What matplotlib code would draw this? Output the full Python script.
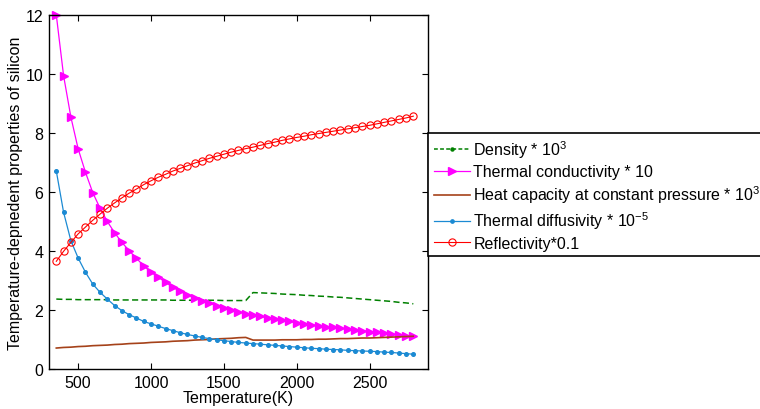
# silicon properties vs temperature, redrawn from a matlab figure

# IMPORTS
import matplotlib
matplotlib.use('Agg')
import matplotlib.pyplot as plt
from matplotlib.lines import Line2D


# DATA (every 50 K)
temperature = [350, 400, 450, 500, 550, 600, 650, 700, 750, 800,
               850, 900, 950, 1000, 1050, 1100, 1150, 1200, 1250, 1300,
               1350, 1400, 1450, 1500, 1550, 1600, 1650, 1700, 1750, 1800,
               1850, 1900, 1950, 2000, 2050, 2100, 2150, 2200, 2250, 2300,
               2350, 2400, 2450, 2500, 2550, 2600, 2650, 2700, 2750, 2800]

density = [2.37, 2.36, 2.36, 2.35, 2.35, 2.35, 2.35, 2.35, 2.34, 2.34,
           2.34, 2.34, 2.34, 2.34, 2.34, 2.34, 2.33, 2.33, 2.33, 2.33,
           2.33, 2.33, 2.33, 2.32, 2.32, 2.32, 2.32, 2.59, 2.58, 2.57,
           2.56, 2.54, 2.53, 2.52, 2.50, 2.49, 2.47, 2.46, 2.44, 2.43,
           2.41, 2.39, 2.37, 2.35, 2.33, 2.31, 2.29, 2.26, 2.24, 2.21]

conductivity = [12.0, 9.94, 8.54, 7.46, 6.67, 5.98, 5.45, 5.00, 4.62, 4.29,
                4.01, 3.75, 3.50, 3.28, 3.11, 2.94, 2.77, 2.63, 2.51, 2.40,
                2.32, 2.23, 2.15, 2.07, 2.00, 1.94, 1.88, 1.83, 1.78, 1.74,
                1.70, 1.66, 1.61, 1.57, 1.53, 1.50, 1.47, 1.44, 1.41, 1.38,
                1.35, 1.32, 1.30, 1.27, 1.24, 1.21, 1.18, 1.16, 1.13, 1.11]

heat_capacity = [0.71, 0.73, 0.74, 0.76, 0.77, 0.79, 0.80, 0.81, 0.83, 0.84,
                 0.86, 0.87, 0.88, 0.90, 0.91, 0.92, 0.94, 0.95, 0.96, 0.98,
                 0.99, 1.00, 1.02, 1.03, 1.04, 1.06, 1.07, 0.98, 0.98, 0.98,
                 0.98, 0.99, 0.99, 0.99, 1.00, 1.00, 1.01, 1.01, 1.02, 1.03,
                 1.03, 1.04, 1.05, 1.05, 1.06, 1.07, 1.08, 1.09, 1.10, 1.11]

diffusivity = [6.71, 5.31, 4.35, 3.76, 3.28, 2.88, 2.60, 2.37, 2.15, 1.98,
               1.84, 1.73, 1.61, 1.53, 1.45, 1.37, 1.30, 1.23, 1.17, 1.12,
               1.07, 1.03, 0.99, 0.96, 0.93, 0.90, 0.88, 0.86, 0.84, 0.82,
               0.80, 0.78, 0.76, 0.74, 0.72, 0.70, 0.69, 0.67, 0.66, 0.65,
               0.63, 0.62, 0.61, 0.60, 0.59, 0.57, 0.56, 0.54, 0.52, 0.50]

reflectivity = [3.65, 3.99, 4.29, 4.58, 4.81, 5.04, 5.25, 5.45, 5.63, 5.80,
                5.96, 6.10, 6.25, 6.38, 6.50, 6.60, 6.71, 6.80, 6.89, 6.98,
                7.06, 7.14, 7.21, 7.28, 7.35, 7.41, 7.47, 7.52, 7.58, 7.64,
                7.69, 7.75, 7.80, 7.85, 7.89, 7.94, 7.98, 8.02, 8.06, 8.10,
                8.14, 8.18, 8.22, 8.26, 8.31, 8.36, 8.41, 8.46, 8.51, 8.57]

labels = ['Density * 10$^3$',
          'Thermal conductivity * 10',
          'Heat capacity at constant pressure * 10$^3$',
          'Thermal diffusivity * 10$^{-5}$',
          'Reflectivity*0.1']

x_ticks = [500, 1000, 1500, 2000, 2500]
y_ticks = [0, 2, 4, 6, 8, 10, 12]

GREEN = '#008000'
MAGENTA = '#ff00ff'
BROWN = '#a5421a'
BLUE = '#1b8ad3'
RED = '#ff0000'

FS = 11.5


def plot_lines(ax):
    ax.plot(temperature, density, color=GREEN, lw=1.1, dashes=(4, 2.2),
            clip_on=False)
    ax.plot(temperature, conductivity, color=MAGENTA, lw=0.9, marker='>',
            ms=6, mfc=MAGENTA, mec=MAGENTA, clip_on=False)
    ax.plot(temperature, heat_capacity, color=BROWN, lw=1.2, clip_on=False)
    ax.plot(temperature, diffusivity, color=BLUE, lw=0.9, marker='o',
            ms=2.6, mfc=BLUE, mec=BLUE, clip_on=False)
    ax.plot(temperature, reflectivity, color=RED, lw=0.8, marker='o',
            ms=5.2, mfc='none', mec=RED, mew=0.8, clip_on=False)


# legend proxies, the density line has a dot in the legend only
def legend_handles():
    return [Line2D([], [], color=GREEN, lw=1.1, dashes=(2.5, 1.5), marker='o', ms=2.2),
            Line2D([], [], color=MAGENTA, lw=0.9, marker='>', ms=6),
            Line2D([], [], color=BROWN, lw=1.2),
            Line2D([], [], color=BLUE, lw=0.9, marker='o', ms=2.4),
            Line2D([], [], color=RED, lw=0.8, marker='o', ms=5.2, mfc='none', mew=0.8)]


def main():
    plt.rcParams['font.family'] = ['Liberation Sans', 'DejaVu Sans']
    plt.rcParams['mathtext.fontset'] = 'custom'
    plt.rcParams['mathtext.rm'] = 'Liberation Sans'

    fig = plt.figure(figsize=(7.6, 4.1), dpi=100)
    ax = fig.add_axes([0.0645, 0.0976, 0.4985, 0.8634])

    plot_lines(ax)

    ax.set_xlim(300, 2900)
    ax.set_ylim(0, 12)
    ax.set_xticks(x_ticks)
    ax.set_yticks(y_ticks)
    ax.tick_params(direction='in', top=True, right=True, length=4,
                   width=0.8, labelsize=FS, pad=4)
    for s in ax.spines.values():
        s.set_linewidth(1.0)

    ax.set_xlabel('Temperature(K)', fontsize=FS, labelpad=0)
    ax.set_ylabel('Temperature-depnedent properties of silicon', fontsize=FS,
                  labelpad=2)

    leg = fig.legend(legend_handles(), labels, loc='upper left',
                     bbox_to_anchor=(0.5635, 0.673), borderaxespad=0,
                     fontsize=FS, handlelength=2.3, handletextpad=0.2,
                     labelspacing=0.27, borderpad=0.33, fancybox=False,
                     framealpha=1)
    leg.get_frame().set_edgecolor('black')
    leg.get_frame().set_linewidth(1.2)

    fig.savefig('out.png', dpi=100)


if __name__ == '__main__':
    main()
